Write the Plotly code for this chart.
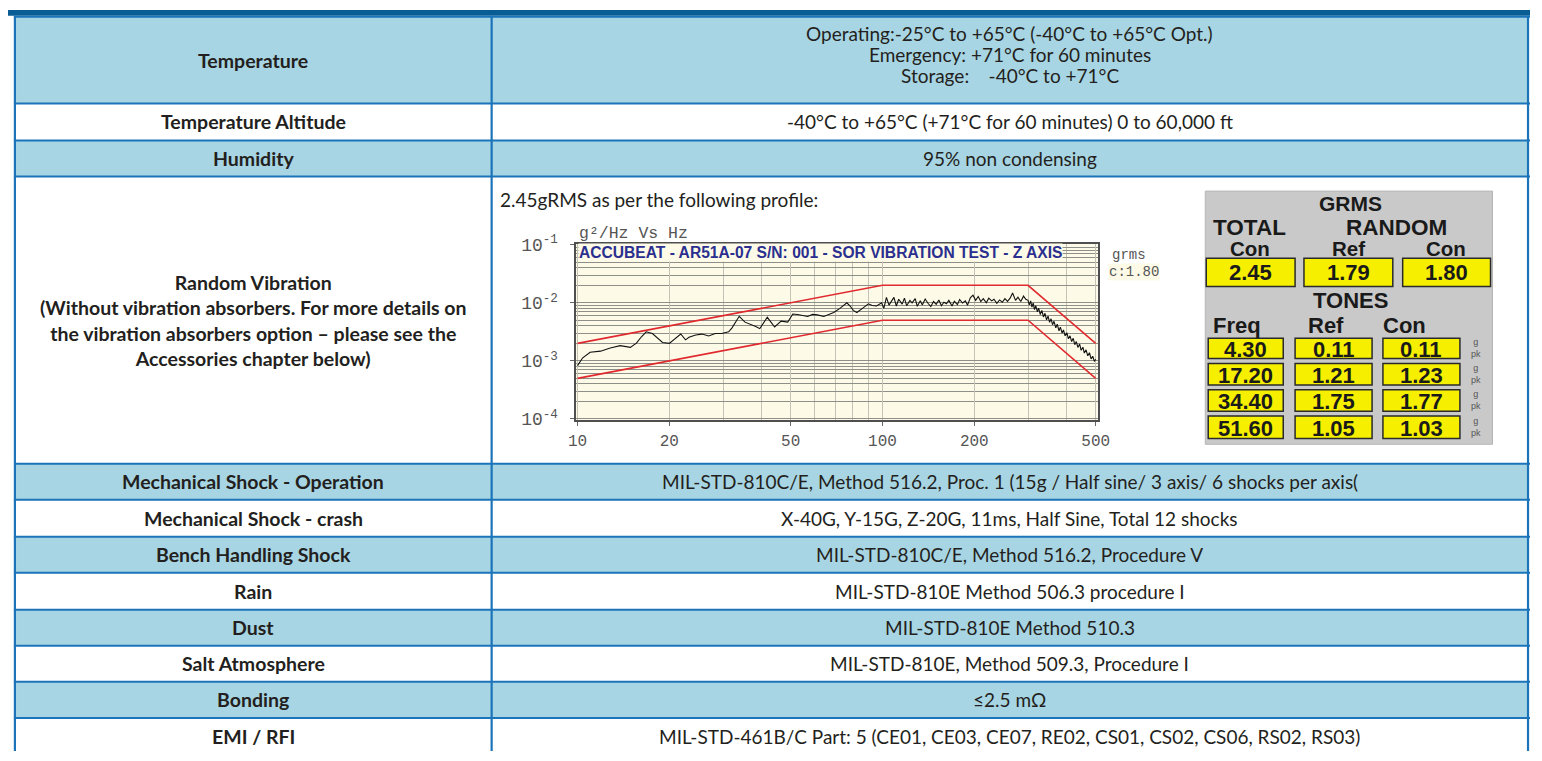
import plotly.graph_objects as go

W, H = 1542, 761

# ---------------- table content ----------------
row_labels = [
    "Temperature", "Temperature Altitude", "Humidity",
    "Random Vibration<br>(Without vibration absorbers. For more details on<br>"
    "the vibration absorbers option – please see the<br>Accessories chapter below)",
    "Mechanical Shock - Operation", "Mechanical Shock - crash", "Bench Handling Shock",
    "Rain", "Dust", "Salt Atmosphere", "Bonding", "EMI / RFI",
]
row_values = [
    None,
    "-40°C to +65°C (+71°C for 60 minutes) 0 to 60,000 ft",
    "95% non condensing",
    None,
    "MIL-STD-810C/E, Method 516.2, Proc. 1 (15g / Half sine/ 3 axis/ 6 shocks per axis(",
    "X-40G, Y-15G, Z-20G, 11ms, Half Sine, Total 12 shocks",
    "MIL-STD-810C/E, Method 516.2, Procedure V",
    "MIL-STD-810E Method 506.3 procedure I",
    "MIL-STD-810E Method 510.3",
    "MIL-STD-810E, Method 509.3, Procedure I",
    "≤2.5 mΩ",
    "MIL-STD-461B/C Part: 5 (CE01, CE03, CE07, RE02, CS01, CS02, CS06, RS02, RS03)",
]
temperature_lines = [
    "Operating:-25°C to +65°C (-40°C to +65°C Opt.)",
    "Emergency: +71°C for 60 minutes",
    "Storage:\u00a0\u00a0\u00a0 -40°C to +71°C",
]
vibration_note = "2.45gRMS as per the following profile:"

# ---------------- vibration chart data ----------------
chart_title = "ACCUBEAT - AR51A-07 S/N: 001 - SOR VIBRATION TEST - Z AXIS"
profile_freq = [10, 100, 300, 500]
profile_upper = [2.0e-3, 2.0e-2, 2.0e-2, 2.0e-3]
profile_lower = [5.0e-4, 5.0e-3, 5.0e-3, 5.0e-4]

psd_freq_low = [10.0, 10.4, 11.0, 11.9, 12.8, 13.8, 14.9, 15.6, 16.2, 16.8,
                17.6, 18.3, 19.0, 20.0, 21.0, 21.8, 22.6, 23.2, 24.4, 25.6,
                26.9, 28.3, 29.7, 31.3, 32.1, 32.9, 33.9, 35.4, 37.2, 38.4,
                39.6, 41.9, 44.3, 46.5, 48.9, 50.8, 52.7, 54.5, 56.8, 59.0,
                61.1, 64.2, 66.5, 69.2, 72.5, 76.4, 78.3, 80.2, 82.4, 84.5,
                86.6, 89.9, 92.5, 95.6, 99.3]
psd_val_low = [8.3e-4, 1.13e-3, 1.41e-3, 1.47e-3, 1.67e-3, 1.83e-3, 1.71e-3, 2.02e-3, 2.6e-3, 3.16e-3,
               2.96e-3, 2.5e-3, 2.07e-3, 2.0e-3, 2.45e-3, 2.9e-3, 2.3e-3, 2.54e-3, 2.78e-3, 2.89e-3,
               2.68e-3, 2.96e-3, 2.96e-3, 3.16e-3, 3.7e-3, 4.47e-3, 5.85e-3, 4.64e-3, 4.24e-3, 3.9e-3,
               3.59e-3, 5.62e-3, 3.83e-3, 4.84e-3, 4.64e-3, 6.4e-3, 6.3e-3, 6.1e-3, 5.8e-3, 6.3e-3,
               6.2e-3, 5.8e-3, 6.3e-3, 6.8e-3, 8.0e-3, 1.0e-2, 8.8e-3, 7.4e-3, 6.8e-3, 7.6e-3,
               8.25e-3, 9.6e-3, 9.0e-3, 8.8e-3, 1.0e-2]
psd_freq_mid = [101, 103, 105, 107, 109, 111, 113, 116, 118, 120,
                123, 125, 128, 130, 133, 135, 138, 141, 144, 147,
                150, 153, 156, 159, 162, 165, 169, 172, 176, 179,
                183, 187, 190, 194, 198, 202, 206, 210, 214, 219,
                223, 228, 232, 237, 242, 247, 252, 257, 262, 267,
                273, 278, 284, 290, 295, 300]
psd_val_mid = [8.0e-3, 1.24e-2, 9.1e-3, 1.05e-2, 1.24e-2, 8.8e-3, 1.15e-2, 9.5e-3, 1.2e-2, 8.9e-3,
               1.1e-2, 1.0e-2, 1.18e-2, 8.7e-3, 1.08e-2, 9.2e-3, 1.16e-2, 9.8e-3, 8.6e-3, 1.05e-2,
               9.4e-3, 1.12e-2, 8.9e-3, 1.02e-2, 9.6e-3, 1.1e-2, 8.8e-3, 1.06e-2, 9.3e-3, 1.14e-2,
               9.9e-3, 1.08e-2, 9.1e-3, 1.22e-2, 1.35e-2, 1.1e-2, 1.28e-2, 1.05e-2, 1.18e-2, 1.0e-2,
               1.2e-2, 1.08e-2, 1.15e-2, 9.8e-3, 1.12e-2, 1.02e-2, 1.18e-2, 1.06e-2, 1.2e-2, 1.47e-2,
               1.1e-2, 1.25e-2, 1.05e-2, 1.3e-2, 1.15e-2, 1.1e-2]
psd_freq_high = [303, 306, 309, 312, 315, 318, 322, 325, 329, 333,
                 337, 341, 345, 349, 353, 357, 361, 365, 370, 374,
                 379, 383, 388, 392, 397, 402, 407, 412, 417, 422,
                 427, 432, 437, 443, 448, 454, 459, 465, 471, 477,
                 483, 489, 495, 500]
psd_val_high = [9.2e-3, 1.08e-2, 8.4e-3, 9.9e-3, 7.6e-3, 8.9e-3, 7.0e-3, 8.1e-3, 6.3e-3, 7.4e-3,
                5.7e-3, 6.6e-3, 5.1e-3, 5.9e-3, 4.6e-3, 5.3e-3, 4.2e-3, 4.8e-3, 3.7e-3, 4.3e-3,
                3.3e-3, 3.8e-3, 3.0e-3, 3.4e-3, 2.7e-3, 3.05e-3, 2.4e-3, 2.7e-3, 2.15e-3, 2.45e-3,
                1.9e-3, 2.15e-3, 1.7e-3, 1.95e-3, 1.52e-3, 1.72e-3, 1.36e-3, 1.55e-3, 1.22e-3, 1.38e-3,
                1.08e-3, 1.2e-3, 0.98e-3, 1.07e-3]

x_tick_vals = [10, 20, 50, 100, 200, 500]
x_tick_text = ["10", "20", "50", "100", "200", "500"]
x_minor_vals = [30, 40, 60, 70, 80, 90, 300, 400]
y_tick_vals = [1e-4, 1e-3, 1e-2, 1e-1]
y_tick_text = ["10<sup>-4</sup>", "10<sup>-3</sup>", "10<sup>-2</sup>", "10<sup>-1</sup>"]

# ---------------- GRMS panel data ----------------
grms_random_labels = ["Con", "Ref", "Con"]
grms_values = [2.45, 1.79, 1.80]
tone_headers = ["Freq", "Ref", "Con"]
tone_freq = [4.30, 17.20, 34.40, 51.60]
tone_ref = [0.11, 1.21, 1.75, 1.05]
tone_con = [0.11, 1.23, 1.77, 1.03]

# ---------------- styling / layout constants ----------------
LATO = "Lato"
MONO = "Liberation Mono"
ARIAL = "Liberation Sans"
TXT = "#231f20"
LIGHT = "#a8d5e3"
BORDER = "#1b74ba"
DARK = "#075d94"
ROW_EDGES = [7, 96, 134, 171, 466, 503, 541, 578, 616, 653, 690, 727, 768]
COL_L, COL_M, COL_R = 7, 490, 1540
LABEL_SIZE = 19.5
VALUE_SIZE = 19
PANEL_TXT = "#1a1a1a"


def X(px):
    return px / W


def Y(py):
    return 1 - py / H


shapes = []
annotations = []


def rect(x0, y0, x1, y1, fill, line_color=None, lw=0, layer="below"):
    shapes.append(dict(type="rect", xref="paper", yref="paper",
                       x0=X(x0), x1=X(x1), y0=Y(y1), y1=Y(y0),
                       fillcolor=fill, layer=layer,
                       line=dict(color=line_color or fill, width=lw)))


def hline(x0, x1, y, color, w):
    shapes.append(dict(type="line", xref="paper", yref="paper",
                       x0=X(x0), x1=X(x1), y0=Y(y), y1=Y(y),
                       line=dict(color=color, width=w), layer="above"))


def vline(x, y0, y1, color, w):
    shapes.append(dict(type="line", xref="paper", yref="paper",
                       x0=X(x), x1=X(x), y0=Y(y0), y1=Y(y1),
                       line=dict(color=color, width=w), layer="above"))


def ann(text, x, y, size, color=TXT, family=LATO, xanchor="center",
        yanchor="middle", bg=None, align="center"):
    d = dict(text=text, xref="paper", yref="paper", x=X(x), y=Y(y),
             xanchor=xanchor, yanchor=yanchor, showarrow=False, align=align,
             font=dict(family=family, size=size, color=color),
             borderpad=0)
    if bg:
        d["bgcolor"] = bg
    annotations.append(d)


# ---- table ----
rect(0, 0, W, 6, DARK)
for i in range(len(row_labels)):
    rect(COL_L, ROW_EDGES[i], COL_R, ROW_EDGES[i + 1], LIGHT if i % 2 == 0 else "white")

# cream chart background (subplot layer, above the cell fill)
shapes.append(dict(type="rect", xref="x domain", yref="y domain", x0=0, x1=1, y0=0, y1=1,
                   fillcolor="#fdfbe7", line=dict(width=0), layer="below"))

for e in ROW_EDGES[:-1]:
    hline(6, W, e, BORDER, 2)
for xv in (COL_L, COL_M, COL_R):
    vline(xv, 6, H, BORDER, 2.2)

label_cx = (COL_L + COL_M) / 2
value_cx = (COL_M + COL_R) / 2
for i, lab in enumerate(row_labels):
    cy = (ROW_EDGES[i] + ROW_EDGES[i + 1]) / 2
    if i == len(row_labels) - 1:
        cy = ROW_EDGES[i] + 19
    ann("<b>%s</b>" % lab, label_cx, cy, LABEL_SIZE)
    if row_values[i]:
        ann(row_values[i], value_cx, cy, VALUE_SIZE)

for j, line in enumerate(temperature_lines):
    ann(line, value_cx, 24 + j * 21.5, VALUE_SIZE)
ann(vibration_note, 497, 195, VALUE_SIZE, xanchor="left")

# ---- GRMS panel ----
rect(1213, 186, 1504, 446, "#c9c9c9", "#b5b5b5", 1)
ann("<b>GRMS</b>", 1360, 199, 21, PANEL_TXT, ARIAL)
ann("<b>TOTAL</b>", 1258, 223, 22.5, PANEL_TXT, ARIAL)
ann("<b>RANDOM</b>", 1407, 223, 22.5, PANEL_TXT, ARIAL)
top_cols = [(1214, 1304), (1313, 1403), (1413, 1502)]
top_hdr_x = [1258, 1358, 1457]
for (a, b), hx, lab, v in zip(top_cols, top_hdr_x, grms_random_labels, grms_values):
    ann("<b>%s</b>" % lab, hx, 245, 20.5, PANEL_TXT, ARIAL)
    rect(a, 255, b, 284, "#f6f000", "#2a2a2a", 1.5, layer="above")
    ann("<b>%.2f</b>" % v, (a + b) / 2, 270, 22, PANEL_TXT, ARIAL)
ann("<b>TONES</b>", 1360, 298, 22, PANEL_TXT, ARIAL)
tone_cols = [(1216, 1292), (1304, 1382), (1393, 1471)]
tone_hdr_x = [1245, 1335, 1415]
tone_rows = [(337, 358), (363, 385), (390, 412), (417, 440)]
for hx, hdr in zip(tone_hdr_x, tone_headers):
    ann("<b>%s</b>" % hdr, hx, 324, 22, PANEL_TXT, ARIAL)
for r, (t0, t1) in enumerate(tone_rows):
    for (a, b), series in zip(tone_cols, (tone_freq, tone_ref, tone_con)):
        rect(a, t0, b, t1, "#f6f000", "#2a2a2a", 1.5, layer="above")
        ann("<b>%.2f</b>" % series[r], (a + b) / 2, (t0 + t1) / 2 + 1, 22, PANEL_TXT, ARIAL)
    ann("g<br>pk", 1487, (t0 + t1) / 2, 9, "#555", ARIAL)

# ---- chart annotations ----
ann("<b>%s</b>" % chart_title, 577, 249, 15.6, "#2b2f8f", ARIAL, xanchor="left", bg="#fdfbe7")
ann("g²/Hz Vs Hz", 577, 230, 16.5, "#555", MONO, xanchor="left")
ann("grms", 1136, 252, 14, "#555", MONO)
ann("c:1.80", 1141, 269, 14, "#555", MONO, bg="#fdfbe7")

# ---- chart traces ----
fig = go.Figure()
fig.add_trace(go.Scatter(x=profile_freq, y=profile_upper, mode="lines",
                         line=dict(color="#e02a2f", width=1.6), hoverinfo="skip"))
fig.add_trace(go.Scatter(x=profile_freq, y=profile_lower, mode="lines",
                         line=dict(color="#e02a2f", width=1.6), hoverinfo="skip"))
fig.add_trace(go.Scatter(x=psd_freq_low + psd_freq_mid + psd_freq_high,
                         y=psd_val_low + psd_val_mid + psd_val_high, mode="lines",
                         line=dict(color="#111111", width=1.1), hoverinfo="skip"))

y_minor_vals = [k * 10.0 ** n for n in (-4, -3, -2) for k in range(2, 10)]

fig.update_layout(
    width=W, height=H, autosize=False,
    margin=dict(l=0, r=0, t=0, b=0),
    paper_bgcolor="white", plot_bgcolor="#fdfbe7",
    showlegend=False,
    shapes=shapes, annotations=annotations,
    xaxis=dict(type="log", domain=[X(575), X(1104)], range=[0.9935, 2.7055],
               tickmode="array", tickvals=x_tick_vals, ticktext=x_tick_text,
               ticks="outside", ticklen=4, tickcolor="#666",
               tickfont=dict(family=MONO, size=16, color="#555"),
               showgrid=True, gridcolor="#c4c4b6", gridwidth=1,
               minor=dict(tickmode="array", tickvals=x_minor_vals, showgrid=True,
                          gridcolor="#c4c4b6", gridwidth=1, ticks=""),
               showline=True, linecolor="#4f4f4f", linewidth=2, mirror=True,
               zeroline=False, fixedrange=True),
    yaxis=dict(type="log", domain=[Y(421.5), Y(240)], range=[-4.025, -0.983],
               tickmode="array", tickvals=y_tick_vals, ticktext=y_tick_text,
               ticks="outside", ticklen=4, tickcolor="#666",
               tickfont=dict(family=MONO, size=18, color="#555"),
               ticklabelstandoff=8,
               showgrid=True, gridcolor="#8f8f8a", gridwidth=1,
               minor=dict(tickmode="array", tickvals=y_minor_vals, showgrid=True,
                          gridcolor="#8f8f8a", gridwidth=1, ticks=""),
               showline=True, linecolor="#4f4f4f", linewidth=2, mirror=True,
               zeroline=False, fixedrange=True),
)

fig.write_html(
    "out.html",
    config={"displayModeBar": False},
    post_script=("document.body.style.margin='0';"
                 "document.body.style.overflow='hidden';"
                 "document.documentElement.style.overflow='hidden';"),
)
